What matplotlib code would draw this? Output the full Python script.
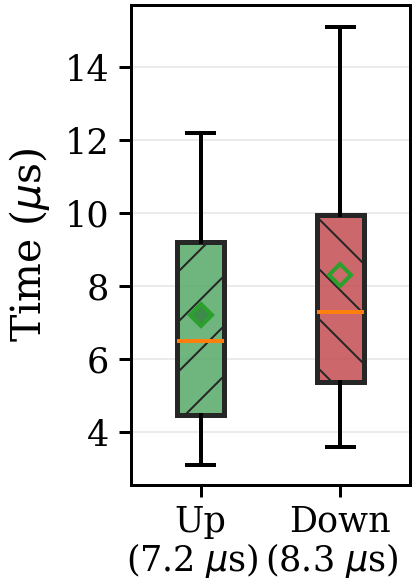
import matplotlib
matplotlib.use("Agg")
import matplotlib.pyplot as plt

# ---- data ----
categories = ["Up", "Down"]
mean_labels = ["7.2", "8.3"]
whislo = [3.1, 3.6]
q1 = [4.47, 5.37]
med = [6.5, 7.3]
q3 = [9.22, 9.95]
whishi = [12.2, 15.1]
means = [7.2, 8.3]

box_colors = ["#55a868", "#c44e52"]
mean_faces = ["#3d8b4a", "#cd6a6c"]
hatches = ["/", "\\"]

DPI = 150
P = 72.0 / DPI  # points per pixel

plt.rcParams["font.family"] = ["DejaVu Serif"]
plt.rcParams["mathtext.fontset"] = "dejavusans"
plt.rcParams["hatch.linewidth"] = 2 * P

fig = plt.figure(figsize=(415 / DPI, 586 / DPI), dpi=DPI)
ax = fig.add_axes([131 / 415, 1 - 485 / 586, (410 - 131) / 415, (485 - 5) / 586])

positions = [1, 2]
stats = []
for i, c in enumerate(categories):
    stats.append(dict(label=c, whislo=whislo[i], q1=q1[i],
                      med=med[i], q3=q3[i], whishi=whishi[i], mean=means[i], fliers=[]))

bp = ax.bxp(stats, positions=positions, widths=0.34, capwidths=0.19, patch_artist=True,
            showmeans=True,
            boxprops=dict(linewidth=5 * P, edgecolor="#262626"),
            whiskerprops=dict(linewidth=4 * P, color="black"),
            capprops=dict(linewidth=4 * P, color="black"),
            medianprops=dict(linewidth=4 * P, color="#ff7f0e"),
            meanprops=dict(marker="D", markersize=15 * P, markeredgewidth=4 * P,
                           markeredgecolor="#2ca02c"))

for i, patch in enumerate(bp["boxes"]):
    patch.set_facecolor(matplotlib.colors.to_rgba(box_colors[i], 0.85))
    patch.set_edgecolor("#262626")
    patch.set_hatch(hatches[i])
for i, m in enumerate(bp["means"]):
    m.set_markerfacecolor(mean_faces[i])

fs = 35 * P
# second line of each category label: the mean value
for i, pos in enumerate(positions):
    ax.annotate(f"({mean_labels[i]} $\\mu$s)", xy=(pos, 0), xycoords=("data", "axes fraction"),
                xytext=(-8.5 * P, -56 * P), textcoords="offset points",
                ha="center", va="top", fontsize=fs, annotation_clip=False)

ax.set_xlim(0.5, 2.5)
ax.set_ylim(2.55, 15.7)
ax.set_yticks([4, 6, 8, 10, 12, 14])
ax.yaxis.grid(True, color="#ebebeb", linewidth=2 * P)
ax.set_axisbelow(True)

ax.set_ylabel("Time ($\\mu$s)", fontsize=41 * P, labelpad=12 * P)
ax.tick_params(axis="y", labelsize=fs, length=12 * P, width=3 * P, pad=10 * P)
ax.tick_params(axis="x", labelsize=fs, length=12 * P, width=3 * P, pad=8 * P)
for s in ax.spines.values():
    s.set_linewidth(3 * P)

fig.savefig("out.png", dpi=DPI)
